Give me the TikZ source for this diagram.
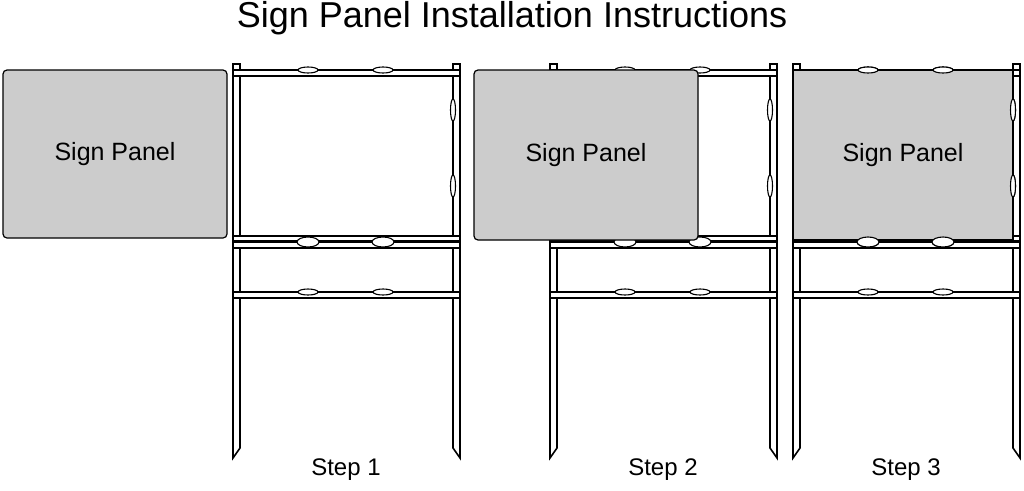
\documentclass[tikz,border=0pt]{standalone}
\usepackage{fontspec}
\setmainfont{Liberation Sans}
\begin{document}
\begin{tikzpicture}
  [
    x=1pt, y=-1pt,
    part/.style =
      {draw, fill=white, line width=1.6pt},
    panel/.style =
      {draw, fill=black!20, line width=1.2pt, rounded corners=4pt,
       font=\fontsize{25}{28}\selectfont},
    clip/.style =
      {draw, fill=white, line width=1.1pt},
    label/.style =
      {font=\fontsize{24}{28}\selectfont}
  ]
\useasboundingbox (0,0) rectangle (1024,490);

\node[font=\fontsize{36}{40}\selectfont] (title) at (512,18) {Sign Panel Installation Instructions};

% one frame, left edge at #1
\newcommand\signframe[2]{%
  \begin{scope}[xshift=#1]
    \draw[part] (0,64) -- (7,64) -- (7,448) -- (0,458) -- cycle;
    \draw[part] (220,64) -- (227,64) -- (227,458) -- (220,448) -- cycle;
    \draw[part] (0,70) rectangle (227,76);
    \draw[part] (0,236) rectangle (227,248);
    \draw[line width=3pt] (0,241) -- (227,241);
    \draw[part] (0,292) rectangle (227,298);
    \foreach \cx in {75,150} {
      \draw[clip] (\cx,70) ellipse (10 and 3);
      \draw[clip] (\cx,242) ellipse (11 and 5);
      \draw[clip] (\cx,292) ellipse (10 and 3);
    }
    \foreach \cy in {110,186}
      \draw[clip] (220,\cy) ellipse (2.5 and 11);
    \node[label] (#2) at (113,470) {#2};
  \end{scope}}

% step 1
\node[panel, minimum width=224pt, minimum height=168pt] (p1) at (115,154) {Sign Panel};
\signframe{233}{Step 1}

% step 2
\signframe{550}{Step 2}
\node[panel, minimum width=224pt, minimum height=170pt] (p2) at (586,155) {Sign Panel};

% step 3
\signframe{793}{Step 3}
\node[panel, rounded corners=0pt, line width=2.4pt, minimum width=220pt, minimum height=170pt] (p3) at (903,155) {Sign Panel};
\begin{scope}[xshift=793]
  \foreach \cx in {75,150} {
    \draw[clip] (\cx,70) ellipse (10 and 3);
    \draw[clip] (\cx,242) ellipse (11 and 5);
  }
  \foreach \cy in {110,186}
    \draw[clip] (220,\cy) ellipse (2.5 and 11);
\end{scope}

\end{tikzpicture}
\end{document}
